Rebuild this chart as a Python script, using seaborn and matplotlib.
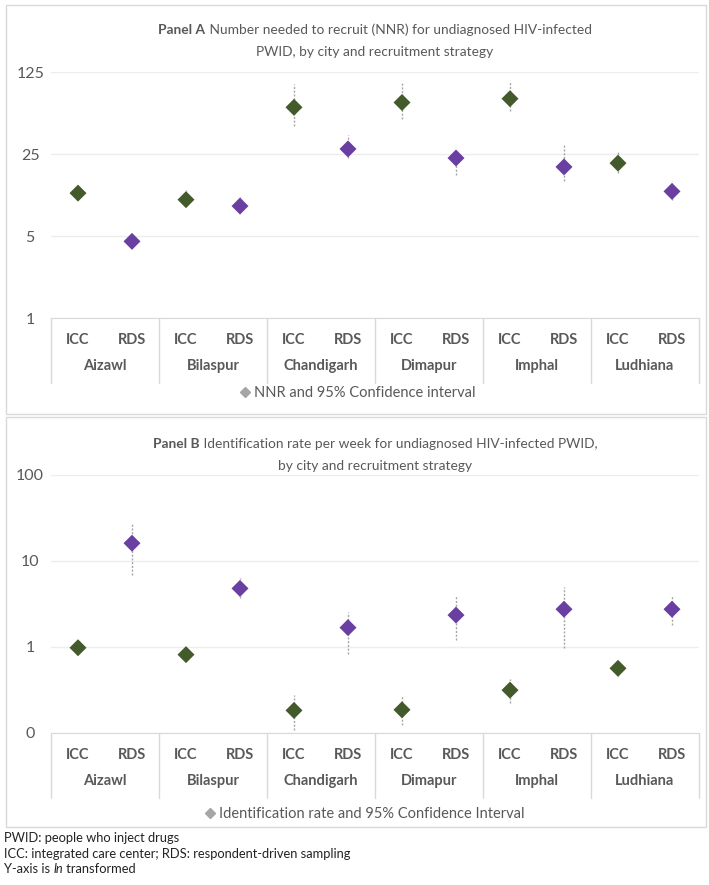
import numpy as np
import pandas as pd
import matplotlib
matplotlib.use("Agg")
import matplotlib.pyplot as plt
import matplotlib.transforms as mtransforms
from matplotlib.lines import Line2D
from matplotlib.patches import Rectangle
import seaborn as sns

# datos (orden: ciudad, luego estrategia)
cities = ["Aizawl", "Bilaspur", "Chandigarh", "Dimapur", "Imphal", "Ludhiana"]
strategies = ["ICC", "RDS"]

nnr = [11.6, 4.5, 10.2, 9.0, 62.5, 27.6, 68.7, 23.1, 74.0, 19.4, 20.9, 12.0]
nnr_lo = [10.3, 4.2, 9.0, 7.9, 43.7, 23.1, 49.8, 16.6, 57.7, 14.6, 17.2, 10.1]
nnr_hi = [13.6, 4.8, 12.3, 10.8, 99.0, 36.6, 102.5, 26.7, 104.5, 30.4, 25.9, 14.8]

rate = [0.98, 16.1, 0.815, 4.8, 0.183, 1.68, 0.186, 2.35, 0.315, 2.75, 0.565, 2.75]
rate_lo = [0.95, 6.9, 0.78, 3.7, 0.109, 0.82, 0.123, 1.21, 0.224, 0.97, 0.46, 1.81]
rate_hi = [1.03, 27.5, 0.85, 6.3, 0.273, 2.56, 0.276, 3.94, 0.42, 5.0, 0.687, 3.94]

ticks_a = [1, 5, 25, 125]
ticks_a_lbl = ["1", "5", "25", "125"]
ticks_b = [0.1, 1, 10, 100]
ticks_b_lbl = ["0", "1", "10", "100"]

GREEN = "#435A2B"
PURPLE = "#6A3FA2"
TXT = "#595959"
LINE = "#D9D9D9"

sns.set_style("white")
plt.rcParams["font.family"] = ["Lato", "DejaVu Sans"]

W, H = 709, 885
fig = plt.figure(figsize=(W / 100, H / 100), dpi=100)


def fx(px):
    return px / W


def fy(px):
    return 1 - px / H


df = pd.DataFrame({
    "city": np.repeat(cities, len(strategies)),
    "strategy": np.tile(strategies, len(cities)),
})
df["pos"] = np.arange(len(df))

# marcos de los paneles
for top, bot in [(5, 414), (417, 827)]:
    fig.patches.append(Rectangle((fx(6), fy(bot)), fx(700), (bot - top) / H,
                                 transform=fig.transFigure, fill=False,
                                 edgecolor=LINE, lw=1))


def rich_line(y, parts, size=9.9, xc=375):
    r = fig.canvas.get_renderer()
    widths = []
    for s, w in parts:
        t = fig.text(0, 0, s, fontsize=size, fontweight=w)
        widths.append(t.get_window_extent(r).width)
        t.remove()
    x = xc - sum(widths) / 2
    for (s, w), wd in zip(parts, widths):
        fig.text(fx(x), fy(y), s, fontsize=size, fontweight=w, color=TXT,
                 va="center", ha="left")
        x += wd


def panel(top, bottom, col, lo, hi, ticks, tlbl, title1, title2, ty,
          legend_txt, leg_x, leg_y):
    ax = fig.add_axes([fx(51), fy(bottom), fx(648), (bottom - top) / H])
    d = df.copy()
    d["val"] = col
    d["lo"] = lo
    d["hi"] = hi
    ax.vlines(d["pos"], d["lo"], d["hi"], colors="#A6A6A6", lw=1,
              linestyles=(0, (1.5, 1.2)), zorder=2)
    sns.scatterplot(data=d, x="pos", y="val", hue="strategy",
                    palette={"ICC": GREEN, "RDS": PURPLE}, marker="D",
                    s=75, linewidth=0, legend=False, ax=ax, zorder=3)
    ax.set_yscale("log")
    ax.set_ylim(ticks[0], ticks[-1])
    ax.set_xlim(-0.5, len(d) - 0.5)
    ax.set_yticks(ticks)
    ax.set_yticklabels(tlbl)
    ax.yaxis.set_minor_locator(matplotlib.ticker.NullLocator())
    ax.tick_params(axis="y", length=0, pad=15, labelsize=11.5, labelcolor=TXT)
    for lab in ax.get_yticklabels():
        lab.set_horizontalalignment("center")
    ax.set_xticks([])
    ax.set_xlabel("")
    ax.set_ylabel("")
    ax.grid(axis="y", color="#EDEDED", lw=1)
    for s in ["top", "left", "right"]:
        ax.spines[s].set_visible(False)
    ax.spines["bottom"].set_color(LINE)

    tr = mtransforms.blended_transform_factory(ax.transData, fig.transFigure)
    for p, s in zip(d["pos"], d["strategy"]):
        ax.text(p, fy(bottom + 22), s, transform=tr, ha="center", va="center",
                fontsize=10.5, fontweight="bold", color=TXT)
    for i, c in enumerate(cities):
        ax.text(2 * i + 0.5, fy(bottom + 48), c, transform=tr, ha="center",
                va="center", fontsize=10.5, fontweight="bold", color=TXT)
    for i in range(len(cities) + 1):
        ax.plot([2 * i - 0.5] * 2, [fy(bottom), fy(bottom + 65)], transform=tr,
                color=LINE, lw=1, clip_on=False)

    rich_line(ty, [(title1[0], "bold"), (title1[1], "normal")])
    rich_line(ty + 22, [(title2, "normal")])

    h = Line2D([], [], marker="D", color="#A6A6A6", ls="none", ms=5)
    fig.legend(handles=[h], labels=[legend_txt], loc="center",
               bbox_to_anchor=(fx(leg_x), fy(leg_y)), frameon=False,
               handletextpad=0.2, handlelength=0.8, fontsize=10.5,
               labelcolor=TXT, borderpad=0)
    return ax


panel(72, 318, nnr, nnr_lo, nnr_hi, ticks_a, ticks_a_lbl,
      ("Panel A", " Number needed to recruit (NNR) for undiagnosed HIV-infected"),
      "PWID, by city and recruitment strategy", 30,
      "NNR and 95% Confidence interval", 357, 393)

panel(475, 733, rate, rate_lo, rate_hi, ticks_b, ticks_b_lbl,
      ("Panel B", " Identification rate per week for undiagnosed HIV-infected PWID,"),
      "by city and recruitment strategy", 444,
      "Identification rate and 95% Confidence Interval", 364, 814)

# notas al pie
fs = 9.3
fig.text(fx(4), fy(838), "PWID: people who inject drugs", fontsize=fs, color="#222222", va="center")
fig.text(fx(4), fy(854), "ICC: integrated care center; RDS: respondent-driven sampling",
         fontsize=fs, color="#222222", va="center")
r = fig.canvas.get_renderer()
x = 4
for s, st in [("Y-axis is ", "normal"), ("ln", "italic"), (" transformed", "normal")]:
    t = fig.text(fx(x), fy(869), s, fontsize=fs, style=st, color="#222222", va="center")
    x += t.get_window_extent(r).width

fig.savefig("out.png", dpi=100)
